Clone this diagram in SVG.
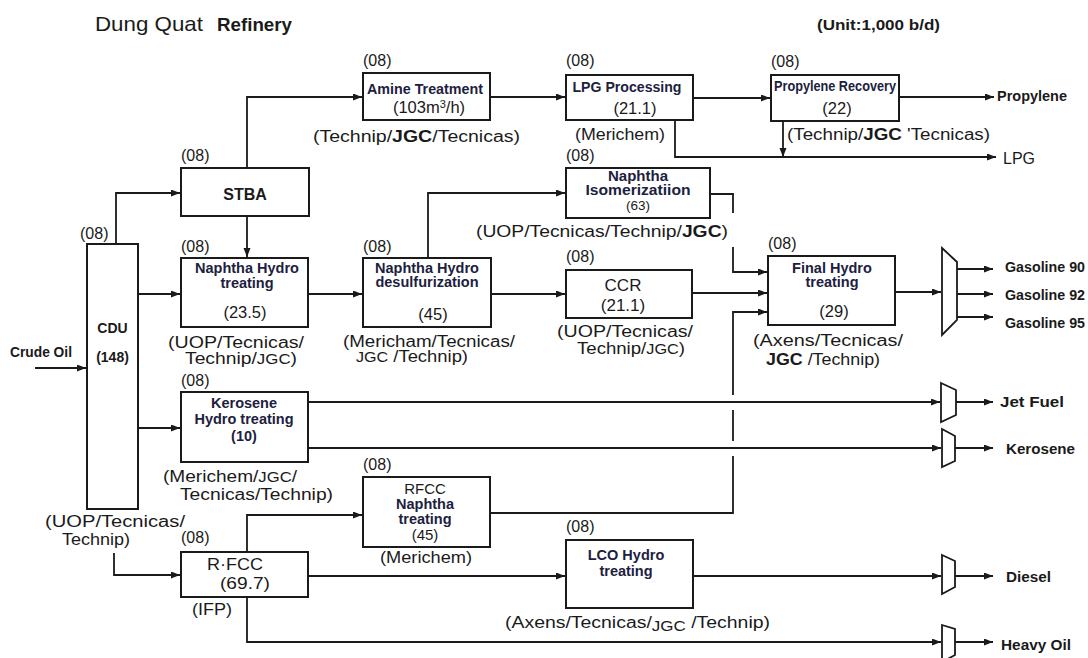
<svg xmlns="http://www.w3.org/2000/svg" width="1088" height="658" viewBox="0 0 1088 658">
<defs>
<marker id="arr" markerWidth="10" markerHeight="8" refX="9" refY="3.5" orient="auto" markerUnits="userSpaceOnUse">
<path d="M0,0 L9,3.5 L0,7 z" fill="#1a1a1a"/>
</marker>
<style>
text{font-family:"Liberation Sans",Arial,sans-serif;fill:#1a1a1a}
.box{fill:#fff;stroke:#1a1a1a;stroke-width:2}
.mux{fill:#fff;stroke:#1a1a1a;stroke-width:1.8}
.ln{fill:none;stroke:#1a1a1a;stroke-width:1.8}
.a{marker-end:url(#arr)}
.lb{font-weight:bold;font-size:14.5px;fill:#1c2140}
.nm{font-size:16.5px}
.cap{font-size:16px}
.b{font-weight:bold}
.out{font-weight:bold;font-size:14px}
.yr{font-size:16px}
</style>
</defs>
<rect width="1088" height="658" fill="#fff"/>

<g id="title">
<text x="95" y="31" font-size="21" textLength="108" lengthAdjust="spacingAndGlyphs">Dung Quat</text>
<text x="217" y="31" class="b" font-size="18.5" textLength="75" lengthAdjust="spacingAndGlyphs">Refinery</text>
<text x="817" y="30" class="b" font-size="14" textLength="123" lengthAdjust="spacingAndGlyphs">(Unit:1,000 b/d)</text>
</g>

<g id="connectors">
<path class="ln a" d="M35,368 H86"/>
<path class="ln a" d="M116,244 V193 H180"/>
<path class="ln a" d="M247,168 V97 H362"/>
<path class="ln a" d="M247,216 V257"/>
<path class="ln a" d="M138,294 H180"/>
<path class="ln a" d="M138,428 H180"/>
<path class="ln a" d="M490,97 H565"/>
<path class="ln a" d="M693,98 H770"/>
<path class="ln a" d="M899,97 H994"/>
<path class="ln a" d="M675,120 V157 H996"/>
<path class="ln a" d="M783,121 V157"/>
<path class="ln a" d="M308,294 H362"/>
<path class="ln a" d="M428,258 V193 H565"/>
<path class="ln a" d="M491,294 H565"/>
<path class="ln" d="M710,194 H733 V213"/>
<path class="ln a" d="M733,247 V272 H767"/>
<path class="ln a" d="M692,293 H767"/>
<path class="ln" d="M490,513 H733 V456"/>
<path class="ln" d="M733,441 V410"/>
<path class="ln a" d="M733,395 V312 H767"/>
<path class="ln a" d="M895,292 H941"/>
<path class="ln a" d="M957,269 H993"/>
<path class="ln a" d="M957,294 H993"/>
<path class="ln a" d="M957,317 H993"/>
<path class="ln a" d="M308,402 H940"/>
<path class="ln a" d="M956,402 H993"/>
<path class="ln a" d="M308,448 H941"/>
<path class="ln a" d="M955,448 H993"/>
<path class="ln a" d="M114,553 V575 H180"/>
<path class="ln a" d="M247,552 V515 H362"/>
<path class="ln a" d="M308,576 H565"/>
<path class="ln a" d="M693,576 H941"/>
<path class="ln a" d="M955,576 H993"/>
<path class="ln a" d="M247,597 V642 H941"/>
<path class="ln a" d="M955,642 H993"/>
</g>

<g id="crude-oil">
<text x="10" y="357" class="b" font-size="14" textLength="62" lengthAdjust="spacingAndGlyphs">Crude Oil</text>
</g>

<g id="cdu">
<text x="80" y="239" class="yr">(08)</text>
<rect class="box" x="87" y="244" width="51" height="265"/>
<text x="112.5" y="333" text-anchor="middle" class="b" font-size="14" fill="#1c2140">CDU</text>
<text x="112.5" y="362" text-anchor="middle" class="b" font-size="14" fill="#1c2140">(148)</text>
<text x="45" y="527" class="cap" textLength="140" lengthAdjust="spacingAndGlyphs">(UOP/Tecnicas/</text>
<text x="62" y="545" class="cap" textLength="68" lengthAdjust="spacingAndGlyphs">Technip)</text>
</g>

<g id="stba">
<text x="181" y="161" class="yr">(08)</text>
<rect class="box" x="181" y="168" width="128" height="48"/>
<text x="245" y="200" text-anchor="middle" class="b" font-size="16" fill="#1c2140">STBA</text>
</g>

<g id="amine">
<text x="363" y="66" class="yr">(08)</text>
<rect class="box" x="363" y="73" width="127" height="47"/>
<text x="425" y="94" text-anchor="middle" class="lb" font-size="14" textLength="116" lengthAdjust="spacingAndGlyphs">Amine Treatment</text>
<text x="429" y="113" text-anchor="middle" class="nm">(103m<tspan font-size="11" dy="-5">3</tspan><tspan dy="5">/h)</tspan></text>
<text x="313" y="142" class="cap" textLength="207" lengthAdjust="spacingAndGlyphs">(Technip/<tspan class="b">JGC</tspan>/Tecnicas)</text>
</g>

<g id="lpg-processing">
<text x="566" y="66" class="yr">(08)</text>
<rect class="box" x="566" y="75" width="127" height="45"/>
<text x="627" y="92" text-anchor="middle" class="lb" font-size="14" textLength="109" lengthAdjust="spacingAndGlyphs">LPG Processing</text>
<text x="635" y="114" text-anchor="middle" class="nm">(21.1)</text>
<text x="575" y="140" class="cap" textLength="90" lengthAdjust="spacingAndGlyphs">(Merichem)</text>
</g>

<g id="propylene-recovery">
<text x="771" y="67" class="yr">(08)</text>
<rect class="box" x="771" y="75" width="128" height="46"/>
<text x="835" y="91" text-anchor="middle" class="lb" font-size="12.5" textLength="122" lengthAdjust="spacingAndGlyphs">Propylene Recovery</text>
<text x="837" y="114" text-anchor="middle" class="nm">(22)</text>
<text x="787" y="140" class="cap" textLength="203" lengthAdjust="spacingAndGlyphs">(Technip/<tspan class="b">JGC</tspan> 'Tecnicas)</text>
</g>

<g id="products-top">
<text x="997" y="101" class="b" font-size="14" textLength="70" lengthAdjust="spacingAndGlyphs">Propylene</text>
<text x="1003" y="164" font-size="16">LPG</text>
</g>

<g id="naphtha-hydrotreating">
<text x="181" y="252" class="yr">(08)</text>
<rect class="box" x="181" y="258" width="127" height="69"/>
<text x="247" y="273" text-anchor="middle" class="lb" font-size="15">Naphtha Hydro</text>
<text x="247" y="288" text-anchor="middle" class="lb" font-size="15">treating</text>
<text x="245" y="318" text-anchor="middle" class="nm">(23.5)</text>
<text x="168" y="348" class="cap" textLength="136" lengthAdjust="spacingAndGlyphs">(UOP/Tecnicas/</text>
<text x="185" y="364" class="cap" textLength="112" lengthAdjust="spacingAndGlyphs">Technip/<tspan font-size="14">JGC</tspan>)</text>
</g>

<g id="naphtha-hds">
<text x="363" y="252" class="yr">(08)</text>
<rect class="box" x="363" y="258" width="128" height="69"/>
<text x="427" y="273" text-anchor="middle" class="lb" font-size="15">Naphtha Hydro</text>
<text x="427" y="287" text-anchor="middle" class="lb" font-size="15">desulfurization</text>
<text x="433" y="320" text-anchor="middle" class="nm">(45)</text>
<text x="343" y="347" class="cap" textLength="172" lengthAdjust="spacingAndGlyphs">(Mericham/Tecnicas/</text>
<text x="356" y="362" class="cap" textLength="112" lengthAdjust="spacingAndGlyphs"><tspan font-size="14">JGC</tspan>  /Technip)</text>
</g>

<g id="naphtha-isomerization">
<text x="566" y="161" class="yr">(08)</text>
<rect class="box" x="566" y="168" width="144" height="50"/>
<text x="638" y="181" text-anchor="middle" class="lb" font-size="13.5" textLength="60" lengthAdjust="spacingAndGlyphs">Naphtha</text>
<text x="638" y="195" text-anchor="middle" class="lb" font-size="13.5" textLength="105" lengthAdjust="spacingAndGlyphs">Isomerizatiion</text>
<text x="638" y="210" text-anchor="middle" font-size="13.5" fill="#1c2140">(63)</text>
<text x="476" y="237" class="cap" textLength="252" lengthAdjust="spacingAndGlyphs">(UOP/Tecnicas/Technip/<tspan class="b">JGC</tspan>)</text>
</g>

<g id="ccr">
<text x="566" y="262" class="yr">(08)</text>
<rect class="box" x="566" y="270" width="126" height="48"/>
<text x="623" y="291" text-anchor="middle" font-size="17">CCR</text>
<text x="623" y="311" text-anchor="middle" font-size="17">(21.1)</text>
<text x="557" y="337" class="cap" textLength="136" lengthAdjust="spacingAndGlyphs">(UOP/Tecnicas/</text>
<text x="577" y="354" class="cap" textLength="108" lengthAdjust="spacingAndGlyphs">Technip/<tspan font-size="14">JGC</tspan>)</text>
</g>

<g id="final-hydrotreating">
<text x="768" y="249" class="yr">(08)</text>
<rect class="box" x="768" y="256" width="127" height="69"/>
<text x="832" y="273" text-anchor="middle" class="lb" font-size="15">Final Hydro</text>
<text x="832" y="287" text-anchor="middle" class="lb" font-size="15">treating</text>
<text x="834" y="317" text-anchor="middle" class="nm">(29)</text>
<text x="753" y="346" class="cap" textLength="150" lengthAdjust="spacingAndGlyphs">(Axens/Tecnicas/</text>
<text x="766" y="365" class="cap" textLength="114" lengthAdjust="spacingAndGlyphs"><tspan class="b">JGC</tspan>  /Technip)</text>
</g>

<g id="gasoline-blender">
<polygon class="mux" points="942,248 957,262 957,320 942,335"/>
<text x="1005" y="272" class="out" font-size="13" textLength="80" lengthAdjust="spacingAndGlyphs">Gasoline 90</text>
<text x="1005" y="300" class="out" font-size="13" textLength="80" lengthAdjust="spacingAndGlyphs">Gasoline 92</text>
<text x="1005" y="328" class="out" font-size="13" textLength="80" lengthAdjust="spacingAndGlyphs">Gasoline 95</text>
</g>

<g id="kerosene-hydrotreating">
<text x="181" y="386" class="yr">(08)</text>
<rect class="box" x="181" y="392" width="127" height="70"/>
<text x="244" y="408" text-anchor="middle" class="lb" font-size="14">Kerosene</text>
<text x="244" y="424" text-anchor="middle" class="lb" font-size="14">Hydro treating</text>
<text x="244" y="441" text-anchor="middle" class="lb" font-size="14">(10)</text>
<text x="163" y="482" class="cap" textLength="134" lengthAdjust="spacingAndGlyphs">(Merichem/<tspan font-size="14">JGC</tspan>/</text>
<text x="180" y="500" class="cap" textLength="153" lengthAdjust="spacingAndGlyphs">Tecnicas/Technip)</text>
</g>

<g id="jet-fuel-blender">
<polygon class="mux" points="941,383 956,390 956,415 941,422"/>
<text x="1000" y="407" class="out" font-size="15" textLength="64" lengthAdjust="spacingAndGlyphs">Jet Fuel</text>
</g>

<g id="kerosene-blender">
<polygon class="mux" points="942,429 955,436 955,461 942,467"/>
<text x="1006" y="454" class="out" textLength="69" lengthAdjust="spacingAndGlyphs">Kerosene</text>
</g>

<g id="rfcc-naphtha-treating">
<text x="363" y="470" class="yr">(08)</text>
<rect class="box" x="363" y="477" width="127" height="70"/>
<text x="425" y="494" text-anchor="middle" font-size="15" fill="#1c2140">RFCC</text>
<text x="425" y="509" text-anchor="middle" class="lb" font-size="15">Naphtha</text>
<text x="425" y="524" text-anchor="middle" class="lb" font-size="15">treating</text>
<text x="425" y="540" text-anchor="middle" font-size="15" fill="#1c2140">(45)</text>
<text x="380" y="563" class="cap" textLength="92" lengthAdjust="spacingAndGlyphs">(Merichem)</text>
</g>

<g id="r-fcc">
<text x="181" y="543" class="yr">(08)</text>
<rect class="box" x="181" y="552" width="127" height="45"/>
<text x="207" y="570" font-size="17" textLength="56" lengthAdjust="spacingAndGlyphs">R·FCC</text>
<text x="220" y="589" font-size="17" textLength="50" lengthAdjust="spacingAndGlyphs">(69.7)</text>
<text x="192" y="615" class="cap" textLength="40" lengthAdjust="spacingAndGlyphs">(IFP)</text>
</g>

<g id="lco-hydrotreating">
<text x="566" y="532" class="yr">(08)</text>
<rect class="box" x="566" y="540" width="127" height="68"/>
<text x="626" y="560" text-anchor="middle" class="lb" font-size="15">LCO Hydro</text>
<text x="626" y="576" text-anchor="middle" class="lb" font-size="15">treating</text>
<text x="505" y="628" class="cap" textLength="265" lengthAdjust="spacingAndGlyphs">(Axens/Tecnicas/<tspan font-size="14" dy="3">JGC</tspan><tspan dy="-3"> /Technip)</tspan></text>
</g>

<g id="diesel-blender">
<polygon class="mux" points="942,555 955,561 955,587 942,594"/>
<text x="1006" y="582" class="out" textLength="45" lengthAdjust="spacingAndGlyphs">Diesel</text>
</g>

<g id="heavy-oil-blender">
<polygon class="mux" points="942,625 955,629 955,655 942,662"/>
<text x="1001" y="650" class="out" textLength="70" lengthAdjust="spacingAndGlyphs">Heavy Oil</text>
</g>
</svg>
